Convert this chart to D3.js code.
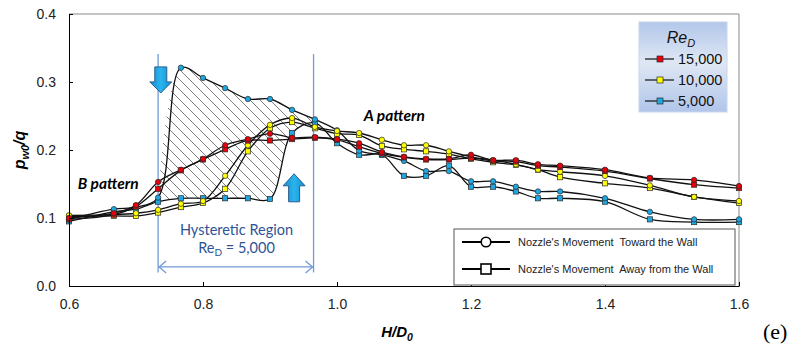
<!DOCTYPE html>
<html>
<head>
<meta charset="utf-8">
<script src="https://cdn.jsdelivr.net/npm/d3@7"></script>
<style>
  body { margin: 0; background: #fff; }
  svg { display: block; font-family: "Liberation Sans", Arial, sans-serif; }
</style>
</head>
<body>
<script>
// H/D0 positions of the measured points
const hd = [0.6, 0.667, 0.7, 0.733, 0.767, 0.8, 0.833, 0.867, 0.9, 0.933, 0.967, 1.0, 1.033,
            1.067, 1.1, 1.133, 1.167, 1.2, 1.233, 1.267, 1.3, 1.333, 1.4, 1.467, 1.533, 1.6];

// pw0/q, Re = 15,000
const red15kToward = [0.100, 0.107, 0.119, 0.153, 0.171, 0.187, 0.207, 0.216, 0.224, 0.218, 0.219, 0.216, 0.210,
                      0.197, 0.190, 0.187, 0.187, 0.193, 0.185, 0.185, 0.179, 0.177, 0.171, 0.159, 0.156, 0.147];
const red15kAway   = [0.098, 0.105, 0.117, 0.143, 0.170, 0.186, 0.201, 0.214, 0.214, 0.216, 0.218, 0.215, 0.205,
                      0.195, 0.189, 0.186, 0.186, 0.188, 0.184, 0.183, 0.177, 0.175, 0.169, 0.158, 0.149, 0.144];
// pw0/q, Re = 10,000
const yel10kToward = [0.104, 0.105, 0.107, 0.112, 0.121, 0.125, 0.162, 0.207, 0.237, 0.247, 0.234, 0.228, 0.225,
                      0.215, 0.207, 0.207, 0.198, 0.190, 0.185, 0.179, 0.171, 0.168, 0.162, 0.148, 0.131, 0.125];
const yel10kAway   = [0.102, 0.103, 0.103, 0.108, 0.116, 0.122, 0.143, 0.198, 0.232, 0.241, 0.232, 0.224, 0.222,
                      0.206, 0.201, 0.198, 0.194, 0.187, 0.182, 0.178, 0.171, 0.160, 0.151, 0.144, 0.131, 0.122];
// pw0/q, Re = 5,000
const blu5kToward  = [0.098, 0.113, 0.116, 0.130, 0.321, 0.306, 0.291, 0.275, 0.275, 0.259, 0.245, 0.229, 0.199,
                      0.193, 0.184, 0.169, 0.169, 0.154, 0.154, 0.146, 0.139, 0.139, 0.129, 0.109, 0.098, 0.098];
const blu5kAway    = [0.095, 0.109, 0.113, 0.124, 0.129, 0.129, 0.129, 0.129, 0.128, 0.225, 0.240, 0.210, 0.193,
                      0.193, 0.162, 0.162, 0.177, 0.146, 0.146, 0.139, 0.129, 0.129, 0.124, 0.098, 0.094, 0.094];

const xTicks = [0.6, 0.8, 1.0, 1.2, 1.4, 1.6];
const yTicks = [0.0, 0.1, 0.2, 0.3, 0.4];
const reLabels = ["15,000", "10,000", "5,000"];
const reColors = ["#e8000b", "#ffff00", "#1ea7e1"];
const moveLabels = ["Nozzle's Movement  Toward the Wall", "Nozzle's Movement  Away from the Wall"];

// Set dimensions
const width = 796;
const height = 351;
const margin = { top: 14, right: 57, bottom: 65, left: 69 };

// Define scales
const x = d3.scaleLinear().domain([0.6, 1.6]).range([margin.left, width - margin.right]);
const y = d3.scaleLinear().domain([0, 0.4]).range([height - margin.bottom, margin.top]);

const svg = d3.select("body").append("svg")
    .attr("width", width)
    .attr("height", height);

const defs = svg.append("defs");

// hatch pattern for the hysteretic region
const hatch = defs.append("pattern")
    .attr("id", "hatch")
    .attr("patternUnits", "userSpaceOnUse")
    .attr("width", 10)
    .attr("height", 10);
hatch.append("path")
    .attr("d", "M0,0 L10,10 M-1,9 L1,11 M9,-1 L11,1")
    .attr("stroke", "#6e6e6e")
    .attr("stroke-width", 0.9);

const lgGrad = defs.append("linearGradient")
    .attr("id", "lgGrad").attr("x1", 0).attr("y1", 0).attr("x2", 0).attr("y2", 1);
lgGrad.append("stop").attr("offset", "0%").attr("stop-color", "#b3c7ea");
lgGrad.append("stop").attr("offset", "45%").attr("stop-color", "#dfe7f4");
lgGrad.append("stop").attr("offset", "100%").attr("stop-color", "#b0c5ea");

const arrGrad = defs.append("linearGradient")
    .attr("id", "arrGrad").attr("x1", 0).attr("y1", 0).attr("x2", 1).attr("y2", 0);
arrGrad.append("stop").attr("offset", "0%").attr("stop-color", "#0d8fd6");
arrGrad.append("stop").attr("offset", "50%").attr("stop-color", "#2cb4ec");
arrGrad.append("stop").attr("offset", "100%").attr("stop-color", "#0d8fd6");

// frame (top and right)
svg.append("path")
    .attr("d", `M${x(0.6)},${y(0.4)} H${x(1.6)} V${y(0)}`)
    .attr("fill", "none")
    .attr("stroke", "#8a8a8a");

// hatched region between the two Re = 5,000 branches
const curve = d3.curveCatmullRom.alpha(0.5);
const hLine = d3.line().x(d => x(d[0])).y(d => y(d[1])).curve(curve);
const upper = d3.range(3, 11).map(i => [hd[i], blu5kToward[i]]);
const lower = d3.range(3, 11).map(i => [hd[i], blu5kAway[i]]).reverse();
svg.append("path")
    .attr("d", hLine(upper) + "L" + hLine(lower).slice(1) + "Z")
    .attr("fill", "url(#hatch)")
    .attr("stroke", "none");

// hysteretic region bounds
const regionBlue = "#6f9bd6";
[0.733, 0.965].forEach(v => {
    svg.append("line")
        .attr("x1", x(v)).attr("x2", x(v))
        .attr("y1", y(0.341)).attr("y2", y(0.02))
        .attr("stroke", regionBlue)
        .attr("stroke-width", 1.3);
});
const ay = y(0.028);
svg.append("line")
    .attr("x1", x(0.733)).attr("x2", x(0.965))
    .attr("y1", ay).attr("y2", ay)
    .attr("stroke", regionBlue).attr("stroke-width", 1.3);
svg.append("path")
    .attr("d", `M${x(0.733) + 8},${ay - 6} L${x(0.733) + 1},${ay} L${x(0.733) + 8},${ay + 6}` +
               `M${x(0.965) - 8},${ay - 6} L${x(0.965) - 1},${ay} L${x(0.965) - 8},${ay + 6}`)
    .attr("fill", "none").attr("stroke", regionBlue).attr("stroke-width", 1.3);

const regionText = svg.append("g")
    .attr("fill", "#2f5496")
    .attr("font-family", "Lato, 'Open Sans', sans-serif")
    .attr("font-size", 14.5)
    .attr("text-anchor", "middle");
regionText.append("text")
    .attr("x", x(0.85)).attr("y", y(0.0745))
    .text("Hysteretic Region");
const reT = regionText.append("text")
    .attr("x", x(0.85)).attr("y", y(0.048));
reT.append("tspan").text("Re");
reT.append("tspan").attr("font-size", 10).attr("dy", 3).text("D");
reT.append("tspan").attr("dy", -3).text(" = 5,000");

// Lines
const line = d3.line()
    .x((d, i) => x(hd[i]))
    .y(d => y(d))
    .curve(curve);

const series = [
    { values: blu5kAway, color: reColors[2], marker: "square" },
    { values: blu5kToward, color: reColors[2], marker: "circle" },
    { values: yel10kAway, color: reColors[1], marker: "square" },
    { values: yel10kToward, color: reColors[1], marker: "circle" },
    { values: red15kAway, color: reColors[0], marker: "square" },
    { values: red15kToward, color: reColors[0], marker: "circle" }
];

series.forEach(s => {
    svg.append("path")
        .datum(s.values)
        .attr("fill", "none")
        .attr("stroke", "#111")
        .attr("stroke-width", 1.3)
        .attr("d", line);
});

series.forEach(s => {
    const g = svg.append("g")
        .attr("fill", s.color)
        .attr("stroke", "#2a2a2a")
        .attr("stroke-width", 0.7);
    if (s.marker === "circle") {
        g.selectAll("circle").data(s.values).join("circle")
            .attr("cx", (d, i) => x(hd[i]))
            .attr("cy", d => y(d))
            .attr("r", 2.7);
    } else {
        g.selectAll("rect").data(s.values).join("rect")
            .attr("x", (d, i) => x(hd[i]) - 2.6)
            .attr("y", d => y(d) - 2.6)
            .attr("width", 5.2)
            .attr("height", 5.2);
    }
});

// block arrows
function blockArrow(cx, tipY, dir, shaftW, shaftL, headW, headL) {
    const s = dir;  // 1 = down, -1 = up
    const baseY = tipY - s * headL;
    const topY = baseY - s * shaftL;
    return `M${cx - shaftW / 2},${topY} H${cx + shaftW / 2} V${baseY} H${cx + headW / 2}` +
           `L${cx},${tipY} L${cx - headW / 2},${baseY} H${cx - shaftW / 2} Z`;
}
svg.append("path")
    .attr("d", blockArrow(x(0.737), y(0.284), 1, 12, 15, 22, 11))
    .attr("fill", "url(#arrGrad)").attr("stroke", "#2f5d8c").attr("stroke-width", 1);
svg.append("path")
    .attr("d", blockArrow(x(0.936), y(0.165), -1, 11, 16, 22, 12))
    .attr("fill", "url(#arrGrad)").attr("stroke", "#2f5d8c").attr("stroke-width", 1);

// pattern labels
const patternFont = "Lato, 'Open Sans', sans-serif";
svg.append("text")
    .attr("x", x(1.04)).attr("y", y(0.243))
    .attr("font-family", patternFont).attr("font-size", 15.5)
    .attr("font-weight", "bold").attr("font-style", "italic")
    .text("A pattern");
svg.append("text")
    .attr("x", x(0.613)).attr("y", y(0.142))
    .attr("font-family", patternFont).attr("font-size", 15.5)
    .attr("font-weight", "bold").attr("font-style", "italic")
    .text("B pattern");

// Add X-axis
const xAxis = svg.append("g")
    .attr("transform", `translate(0,${y(0)})`)
    .call(d3.axisBottom(x).tickValues(xTicks).tickFormat(d3.format(".1f"))
        .tickSizeInner(-4).tickSizeOuter(0).tickPadding(13));
// Add Y-axis
const yAxis = svg.append("g")
    .attr("transform", `translate(${x(0.6)},0)`)
    .call(d3.axisLeft(y).tickValues(yTicks).tickFormat(d3.format(".1f"))
        .tickSizeInner(-4).tickSizeOuter(0).tickPadding(13));

[xAxis, yAxis].forEach(a => {
    a.selectAll("text").attr("font-size", 14).attr("fill", "#222")
        .attr("font-family", "'Liberation Sans', Arial, sans-serif");
    a.select(".domain").attr("stroke", "#000");
    a.selectAll(".tick line").attr("stroke", "#000");
});

// axis titles
const yTitle = svg.append("text")
    .attr("transform", `translate(25,${y(0.2)}) rotate(-90)`)
    .attr("text-anchor", "middle")
    .attr("font-size", 16).attr("font-weight", "bold").attr("font-style", "italic");
yTitle.append("tspan").text("p");
yTitle.append("tspan").attr("font-size", 11).attr("dy", 4).text("w0");
yTitle.append("tspan").attr("dy", -4).text("/q");

const xTitle = svg.append("text")
    .attr("x", x(1.0) + 60).attr("y", 337)
    .attr("text-anchor", "middle")
    .attr("font-size", 15).attr("font-weight", "bold").attr("font-style", "italic");
xTitle.append("tspan").text("H/D");
xTitle.append("tspan").attr("font-size", 10.5).attr("dy", 4).text("0");

svg.append("text")
    .attr("x", 763).attr("y", 339)
    .attr("font-family", "'Liberation Serif', 'Times New Roman', serif")
    .attr("font-size", 22)
    .text("(e)");

// Re legend
const lg = svg.append("g").attr("transform", "translate(639,22)");
lg.append("rect")
    .attr("width", 88).attr("height", 90)
    .attr("fill", "url(#lgGrad)").attr("stroke", "#c9d6ea");
const lgT = lg.append("text")
    .attr("x", 42).attr("y", 21)
    .attr("text-anchor", "middle")
    .attr("font-size", 16).attr("font-style", "italic").attr("fill", "#111");
lgT.append("tspan").text("Re");
lgT.append("tspan").attr("font-size", 11).attr("dy", 4).text("D");
reLabels.forEach((lab, i) => {
    const gy = 37 + i * 21;
    lg.append("line").attr("x1", 6).attr("x2", 35).attr("y1", gy).attr("y2", gy)
        .attr("stroke", "#111").attr("stroke-width", 1.2);
    lg.append("rect").attr("x", 18).attr("y", gy - 3).attr("width", 6).attr("height", 6)
        .attr("fill", reColors[i]).attr("stroke", "#2a2a2a").attr("stroke-width", 0.7);
    lg.append("text").attr("x", 39).attr("y", gy + 5)
        .attr("font-size", 14.5).attr("fill", "#111").text(lab);
});

// movement legend
const mg = svg.append("g").attr("transform", "translate(454,229)");
mg.append("rect")
    .attr("width", 281).attr("height", 56)
    .attr("fill", "#fff").attr("stroke", "#555").attr("stroke-width", 1);
moveLabels.forEach((lab, i) => {
    const gy = 13 + i * 27;
    mg.append("line").attr("x1", 8).attr("x2", 56).attr("y1", gy).attr("y2", gy)
        .attr("stroke", "#000").attr("stroke-width", 2);
    if (i === 0) {
        mg.append("circle").attr("cx", 32).attr("cy", gy).attr("r", 4.8)
            .attr("fill", "#fff").attr("stroke", "#000").attr("stroke-width", 1.6);
    } else {
        mg.append("rect").attr("x", 27).attr("y", gy - 5).attr("width", 10).attr("height", 10)
            .attr("fill", "#fff").attr("stroke", "#000").attr("stroke-width", 1.6);
    }
    mg.append("text").attr("x", 64).attr("y", gy + 4)
        .attr("font-size", 11).attr("fill", "#222")
        .style("white-space", "pre")
        .text(lab);
});
</script>
</body>
</html>
